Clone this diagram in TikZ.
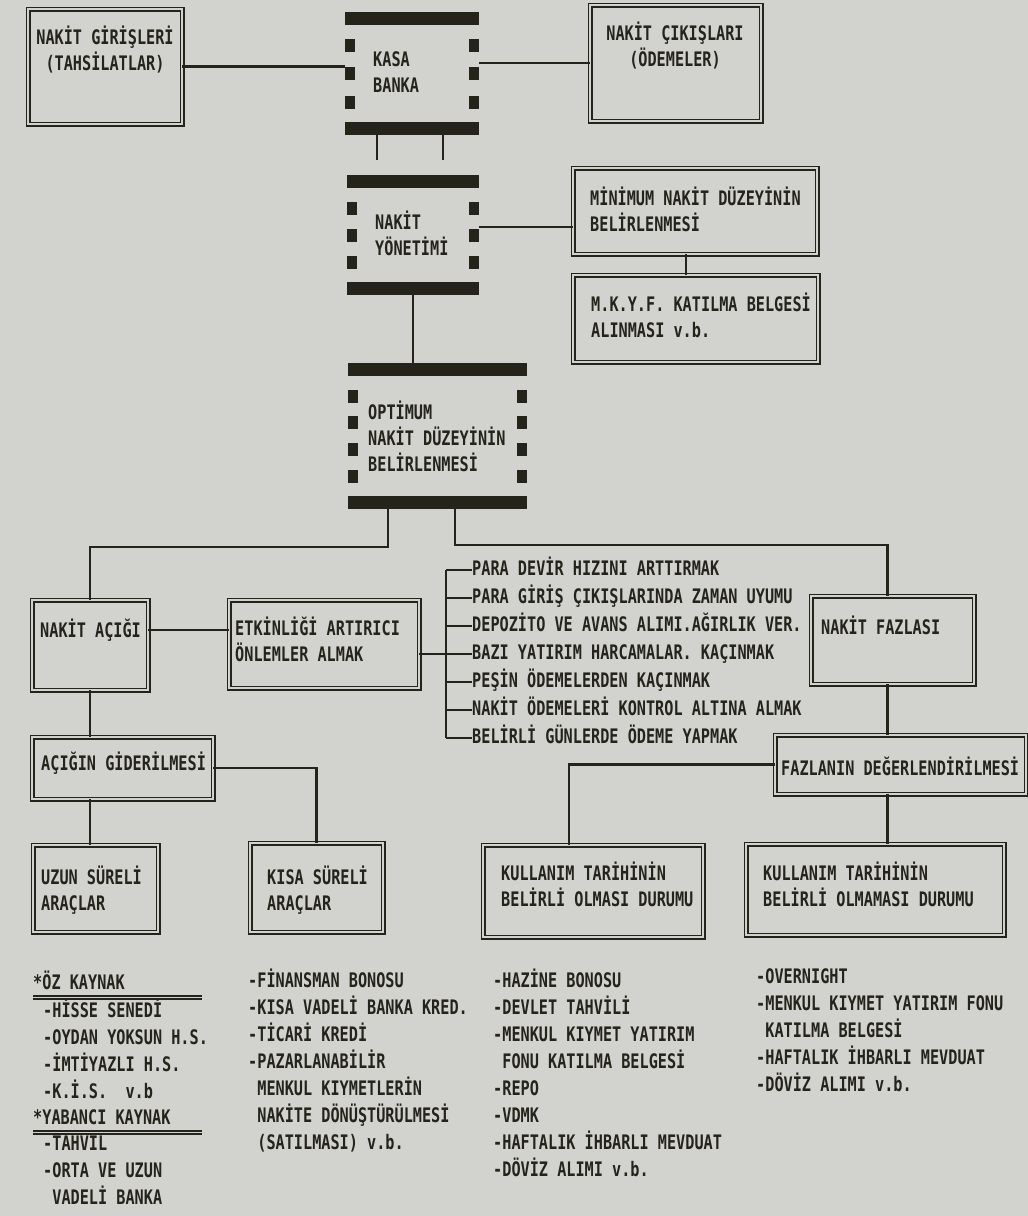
\documentclass[tikz,border=0pt]{standalone}
\usepackage{fontspec}
\newfontfamily\dmyazi{DejaVu Sans Mono}[FakeStretch=0.76]
\usepackage{tikz}
\usetikzlibrary{calc}

\definecolor{kagit}{RGB}{210,210,207}
\definecolor{murekkep}{RGB}{36,36,26}

\newcommand{\kutufont}{\dmyazi\bfseries\fontsize{20}{26}\selectfont}
\newcommand{\listefont}{\dmyazi\bfseries\fontsize{20}{27}\selectfont}

% film seridi: ad, x, y, genislik, yukseklik, yan kare sayisi
\newcommand{\serit}[6]{%
  \node[seritkutu, minimum width=#4, minimum height=#5] (#1) at (#2,#3) {};
  \fill[murekkep] (#2,#3) rectangle ++(#4,13);
  \fill[murekkep] (#2,{#3+#5-13}) rectangle ++(#4,13);
  \pgfmathsetmacro{\aralik}{(#5-66)/(#6-1)}
  \foreach \i in {1,...,#6} {
    \fill[murekkep] (#2,{#3+26.5+(\i-1)*\aralik}) rectangle ++(10,13);
    \fill[murekkep] ({#2+#4-10},{#3+26.5+(\i-1)*\aralik}) rectangle ++(10,13);
  }
}

\begin{document}
\begin{tikzpicture}[x=1pt, y=-1pt,
    kutu/.style={draw=murekkep, double=kagit, line width=1.7pt, double distance=1.6pt,
      inner sep=0pt, outer sep=0pt, anchor=north west},
    seritkutu/.style={inner sep=0pt, outer sep=0pt, anchor=north west},
    yazi/.style={font=\kutufont, text=murekkep, inner sep=0pt, anchor=north west,
      align=left, execute at begin node=\strut},
    liste/.style={yazi, font=\listefont},
    baglanti/.style={draw=murekkep, line width=2.2pt},
    cift/.style={draw=murekkep, double=kagit, line width=1.6pt, double distance=1.4pt}]

\path[use as bounding box, fill=kagit] (0,0) rectangle (1028,1216);

% ust kisim
\node[kutu, minimum width=154, minimum height=115] (giris) at (28,9) {};
\node[yazi, align=center, anchor=north] (girisyazi) at (105,26) {NAKİT GİRİŞLERİ\\(TAHSİLATLAR)};
\node[kutu, minimum width=171, minimum height=116] (cikis) at (590,5) {};
\node[yazi, align=center, anchor=north] (cikisyazi) at (675,22) {NAKİT ÇIKIŞLARI\\(ÖDEMELER)};

\serit{kasa}{345}{12}{134}{123}{3}
\node[yazi] (kasayazi) at (373,51) {KASA\\BANKA};
\serit{yonetim}{347}{175}{132}{120}{3}
\node[yazi] (yonetimyazi) at (375,211) {NAKİT\\YÖNETİMİ};

\node[kutu, minimum width=244, minimum height=86] (minimum) at (573,168) {};
\node[yazi] (minimumyazi) at (590,187) {MİNİMUM NAKİT DÜZEYİNİN\\BELİRLENMESİ};
\node[kutu, minimum width=245, minimum height=87] (mkyf) at (573,275) {};
\node[yazi] (mkyfyazi) at (591,293) {M.K.Y.F. KATILMA BELGESİ\\ALINMASI v.b.};

\serit{optimum}{348}{363}{179}{146}{4}
\node[yazi] (optimumyazi) at (368,401) {OPTİMUM\\NAKİT DÜZEYİNİN\\BELİRLENMESİ};

% orta kisim
\node[kutu, minimum width=116, minimum height=90] (acik) at (32,600) {};
\node[yazi] (acikyazi) at (40,619) {NAKİT AÇIĞI};
\node[kutu, minimum width=190, minimum height=88] (etkin) at (229,600) {};
\node[yazi] (etkinyazi) at (235,617) {ETKİNLİĞİ ARTIRICI\\ÖNLEMLER ALMAK};
\node[kutu, minimum width=163, minimum height=88] (fazla) at (811,596) {};
\node[yazi] (fazlayazi) at (821,616) {NAKİT FAZLASI};

\foreach \t [count=\i] in {PARA DEVİR HIZINI ARTTIRMAK,
    PARA GİRİŞ ÇIKIŞLARINDA ZAMAN UYUMU,
    DEPOZİTO VE AVANS ALIMI.AĞIRLIK VER.,
    BAZI YATIRIM HARCAMALAR. KAÇINMAK,
    PEŞİN ÖDEMELERDEN KAÇINMAK,
    NAKİT ÖDEMELERİ KONTROL ALTINA ALMAK,
    BELİRLİ GÜNLERDE ÖDEME YAPMAK} {
  \node[yazi, anchor=west] (madde\i) at (472,{542+28*\i}) {\t};
}

\node[kutu, minimum width=181, minimum height=62] (gider) at (32,737) {};
\node[yazi] (gideryazi) at (41,752) {AÇIĞIN GİDERİLMESİ};
\node[kutu, minimum width=251, minimum height=59] (deger) at (775,735) {};
\node[yazi] (degeryazi) at (781,757) {FAZLANIN DEĞERLENDİRİLMESİ};

% alt kutular
\node[kutu, minimum width=125, minimum height=87] (uzun) at (33,845) {};
\node[yazi] (uzunyazi) at (41,866) {UZUN SÜRELİ\\ARAÇLAR};
\node[kutu, minimum width=133, minimum height=89] (kisa) at (250,843) {};
\node[yazi] (kisayazi) at (267,866) {KISA SÜRELİ\\ARAÇLAR};
\node[kutu, minimum width=220, minimum height=92] (belirli) at (483,845) {};
\node[yazi] (belirliyazi) at (501,862) {KULLANIM TARİHİNİN\\BELİRLİ OLMASI DURUMU};
\node[kutu, minimum width=258, minimum height=91] (belirsiz) at (746,844) {};
\node[yazi] (belirsizyazi) at (763,862) {KULLANIM TARİHİNİN\\BELİRLİ OLMAMASI DURUMU};

% listeler
\node[liste] (ozbaslik) at (33,970.4) {*ÖZ KAYNAK};
\node[liste] (ozliste) at (43,998.4) {-HİSSE SENEDİ\\-OYDAN YOKSUN H.S.\\-İMTİYAZLI H.S.\\-K.İ.S.\ \ v.b};
\node[liste] (yabancibaslik) at (33,1105.4) {*YABANCI KAYNAK};
\node[liste] (yabanciliste) at (43,1131.4) {-TAHVİL\\-ORTA VE UZUN\\\phantom{-}VADELİ BANKA};
\draw[cift] ([yshift=-8pt]ozbaslik.base west) -- ++(169,0);
\draw[cift] ([yshift=-8pt]yabancibaslik.base west) -- ++(169,0);

\node[liste] (kisaliste) at (248,968.4) {-FİNANSMAN BONOSU\\-KISA VADELİ BANKA KRED.\\-TİCARİ KREDİ\\-PAZARLANABİLİR\\\phantom{-}MENKUL KIYMETLERİN\\\phantom{-}NAKİTE DÖNÜŞTÜRÜLMESİ\\\phantom{-}(SATILMASI) v.b.};
\node[liste] (belirliliste) at (493,968.4) {-HAZİNE BONOSU\\-DEVLET TAHVİLİ\\-MENKUL KIYMET YATIRIM\\\phantom{-}FONU KATILMA BELGESİ\\-REPO\\-VDMK\\-HAFTALIK İHBARLI MEVDUAT\\-DÖVİZ ALIMI v.b.};
\node[liste] (belirsizliste) at (756,968.4) {-OVERNIGHT\\-MENKUL KIYMET YATIRIM FONU\\\phantom{-}KATILMA BELGESİ\\-HAFTALIK İHBARLI MEVDUAT\\-DÖVİZ ALIMI v.b.};

% baglantilar
\coordinate (ustsol) at (0,547);
\coordinate (ustsag) at (0,545);
\coordinate (y1) at ([yshift=8pt]yonetim.east);
\coordinate (o1) at ([xshift=-49.5pt]optimum.south);
\coordinate (o2) at ([xshift=17.5pt]optimum.south);
\coordinate (a1) at ([yshift=15pt]acik.east);
\coordinate (e1) at ([yshift=-10pt]etkin.east);
\coordinate (kose) at ([xshift=-26pt]madde1.west);
\coordinate (f1) at ([xshift=-5pt]fazla.south);

\draw[baglanti] (giris.east) -- (giris.east -| kasa.west);
\draw[baglanti] (cikis.west) -- (cikis.west -| kasa.east);
\draw[baglanti] ([xshift=-35pt]kasa.south) -- ++(0,25);
\draw[baglanti] ([xshift=31pt]kasa.south) -- ++(0,25);
\draw[baglanti] (y1) -- (y1 -| minimum.west);
\draw[baglanti] ([xshift=-9pt]minimum.south) -- ([xshift=-9pt]minimum.south |- mkyf.north);
\draw[baglanti] (yonetim.south) -- (yonetim.south |- optimum.north);
\draw[baglanti] (o1) -- (o1 |- ustsol) -| (acik.north);
\draw[baglanti] (o2) -- (o2 |- ustsag) -| (f1 |- fazla.north);
\draw[baglanti] (a1) -- (a1 -| etkin.west);
\draw[baglanti] (e1) -- (e1 -| kose);
\draw[baglanti] (kose) -- (kose |- madde7.west);
\foreach \i in {1,...,7} {
  \draw[baglanti] (kose |- madde\i.west) -- (madde\i.west);
}
\draw[baglanti] (acik.south) -- (acik.south |- gider.north);
\draw[baglanti] (gider.east) -| (kisa.north);
\draw[baglanti] (acik.south |- gider.south) -- (acik.south |- uzun.north);
\draw[baglanti] (f1) -- (f1 |- deger.north);
\draw[baglanti] (deger.west) -| ([xshift=-24pt]belirli.north);
\draw[baglanti] (f1 |- deger.south) -- (f1 |- belirsiz.north);
\end{tikzpicture}
\end{document}
